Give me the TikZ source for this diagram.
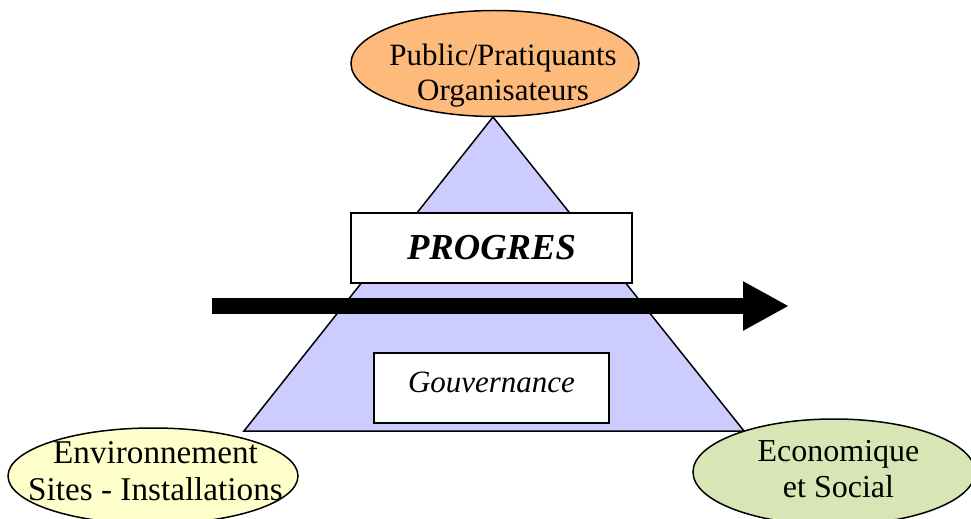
\documentclass[tikz,border=0pt]{standalone}
\usepackage{fontspec}
\setmainfont{Liberation Serif}
\usetikzlibrary{shapes.geometric,arrows.meta}

\definecolor{orangefill}{RGB}{253,186,122}
\definecolor{yellowfill}{RGB}{255,255,204}
\definecolor{greenfill}{RGB}{215,230,180}
\definecolor{lavender}{RGB}{204,204,255}

\begin{document}
\begin{tikzpicture}[x=0.5pt, y=-0.5pt]
		\tikzstyle{Oval}	= [ellipse, draw, line width=0.75pt, inner sep=0pt]
		\tikzstyle{Label}	= [align=center, font=\fontsize{16}{18}\selectfont]
		\tikzstyle{Box}		= [rectangle, draw, fill=white, line width=0.75pt, minimum height=35pt, inner sep=0pt]
		\tikzstyle{Pyramid}	= [draw, fill=lavender, line width=0.75pt]
		\tikzstyle{Thrust}	= [-{Triangle[length=23pt, width=23pt]}, line width=8pt]

		\useasboundingbox (0, 0) rectangle (971, 519);

		\coordinate (apex) at (493, 117);
		\coordinate (left) at (244, 431);
		\coordinate (right) at (744, 431);
		\draw (apex) -- (left) -- (right) -- cycle [Pyramid];

		\coordinate (start) at (212, 306);
		\coordinate (end) at (789, 306);
		\draw (start) -- (end) [Thrust];

		\node (progres) at (491.5, 248) [Box, minimum width=140.5pt, font=\fontsize{18.3}{20}\selectfont\bfseries\itshape] {PROGRES};
		\node (gouv) at (491.5, 388) [Box, minimum width=117.5pt, text depth=6pt, font=\fontsize{15.5}{18}\selectfont\itshape] {Gouvernance};

		\node (public) at (495, 63.5) [Oval, fill=orangefill, minimum width=144pt, minimum height=53pt,
			label={[Label, font=\fontsize{15.5}{17.5}\selectfont, xshift=4pt, yshift=-6pt]center:Public/Pratiquants\\Organisateurs}] {};
		\node (env) at (153, 476) [Oval, fill=yellowfill, minimum width=145pt, minimum height=48pt,
			label={[Label, font=\fontsize{16.6}{18.5}\selectfont, xshift=1.25pt, yshift=2.5pt]center:Environnement\\Sites - Installations}] {};
		\node (eco) at (834, 472) [Oval, fill=greenfill, minimum width=141pt, minimum height=53pt,
			label={[Label, xshift=2.25pt, yshift=1.5pt]center:Economique\\et Social}] {};
	\end{tikzpicture}
\end{document}
